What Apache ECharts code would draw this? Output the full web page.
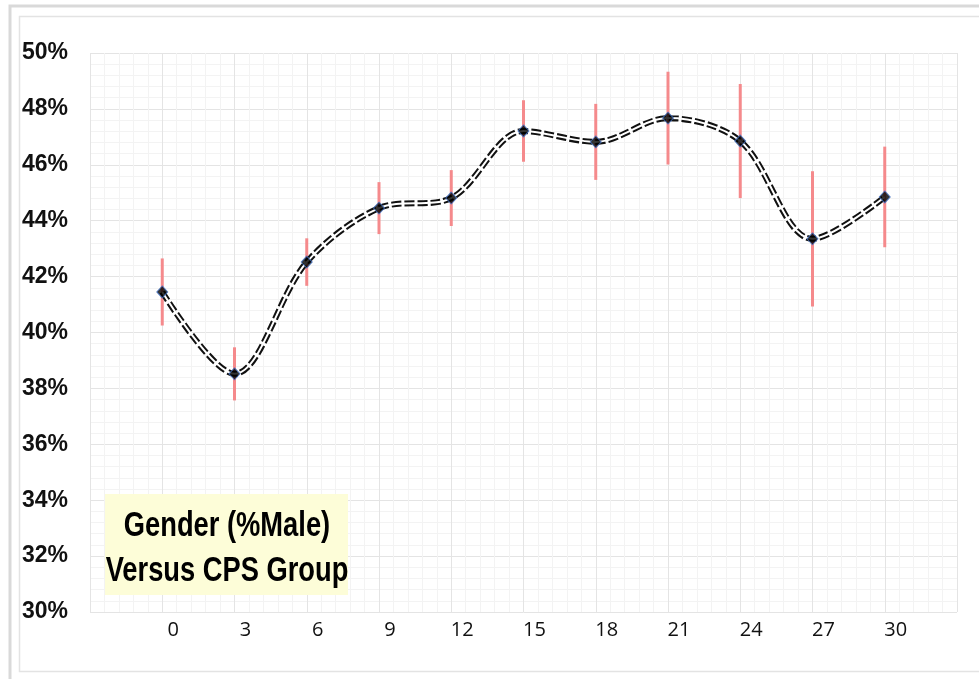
<!DOCTYPE html>
<html>
<head>
<meta charset="utf-8">
<script src="https://cdn.jsdelivr.net/npm/echarts@6.0.0/dist/echarts.min.js"></script>
<style>
    html, body { margin: 0; padding: 0; background: #fff; }
    #chart { width: 979px; height: 679px; }
</style>
</head>
<body>
<div id="chart"></div>
<script>
    // CPS group on x, share of males (%) with its error half-width
    const cpsGroups = [0, 3, 6, 9, 12, 15, 18, 21, 24, 27, 30];
    const malePercent = [41.45, 38.52, 42.52, 44.45, 44.81, 47.21, 46.82, 47.67, 46.85, 43.35, 44.85];
    const errorHalf = [1.2, 0.95, 0.85, 0.93, 1.0, 1.1, 1.36, 1.66, 2.04, 2.42, 1.8];
    const titleLines = ["Gender (%Male)", "Versus CPS Group"];

    const points = cpsGroups.map((x, i) => [x, malePercent[i]]);
    const bars = cpsGroups.map((x, i) => [x, malePercent[i] - errorHalf[i], malePercent[i] + errorHalf[i]]);

    const chart = echarts.init(document.getElementById("chart"), null, { renderer: "canvas" });

    const option = {
        animation: false,
        grid: { left: 90, top: 53, right: 22, bottom: 67 },
        graphic: [
            {
                type: "rect",
                shape: { x: 10, y: 6, width: 1000, height: 700 },
                style: { fill: "none", stroke: "#d9d9d9", lineWidth: 3 },
                silent: true
            },
            {
                type: "rect",
                shape: { x: 19.5, y: 16.5, width: 1000, height: 655 },
                style: { fill: "none", stroke: "#e3e3e3", lineWidth: 1.5 },
                silent: true
            },
            {
                type: "rect",
                shape: { x: 105, y: 494, width: 243, height: 101 },
                style: { fill: "#fdfdd8" },
                z: 10,
                silent: true
            },
            {
                type: "text",
                x: 227,
                y: 549,
                scaleX: 0.78,
                z: 11,
                style: {
                    text: titleLines.join("\n"),
                    align: "center",
                    verticalAlign: "middle",
                    lineHeight: 45,
                    fill: "#000",
                    font: "bold 35px 'Liberation Sans', sans-serif"
                },
                silent: true
            }
        ],
        xAxis: {
            type: "value",
            min: -3,
            max: 33,
            interval: 3,
            axisLine: { show: false },
            axisTick: { show: false },
            axisLabel: {
                color: "#111",
                fontSize: 20,
                fontFamily: "'Open Sans', sans-serif",
                margin: 8,
                padding: [0, 0, 0, 22],
                formatter(value) {
                    return value < 0 || value > 30 ? "" : String(value);
                }
            },
            splitLine: { lineStyle: { color: "#e4e4e4", width: 1 } },
            minorTick: { show: false, splitNumber: 5 },
            minorSplitLine: { show: true, lineStyle: { color: "#f3f3f3", width: 1 } }
        },
        yAxis: {
            type: "value",
            min: 30,
            max: 50,
            interval: 2,
            axisLine: { show: false },
            axisTick: { show: false },
            axisLabel: {
                color: "#111",
                fontSize: 23,
                fontWeight: "bold",
                fontFamily: "'Liberation Sans', sans-serif",
                margin: 22,
                formatter: "{value}%"
            },
            splitLine: { lineStyle: { color: "#e4e4e4", width: 1 } },
            minorTick: { show: false, splitNumber: 5 },
            minorSplitLine: { show: true, lineStyle: { color: "#f3f3f3", width: 1 } }
        },
        series: [
            {
                type: "custom",
                name: "Error",
                z: 1,
                data: bars,
                renderItem(params, api) {
                    const low = api.coord([api.value(0), api.value(1)]);
                    const high = api.coord([api.value(0), api.value(2)]);
                    return {
                        type: "line",
                        shape: { x1: low[0], y1: low[1], x2: high[0], y2: high[1] },
                        style: { stroke: "#f58a8c", lineWidth: 3 }
                    };
                }
            },
            {
                type: "line",
                name: "Male",
                z: 2,
                data: points,
                smooth: 0.33,
                showSymbol: false,
                lineStyle: { color: "#111", width: 6, type: [10, 3] }
            },
            {
                type: "line",
                name: "MaleInner",
                z: 3,
                data: points,
                smooth: 0.33,
                showSymbol: false,
                lineStyle: { color: "#fff", width: 2 }
            },
            {
                type: "scatter",
                name: "Points",
                z: 4,
                data: points,
                symbol: "diamond",
                symbolSize: [11, 12],
                itemStyle: { color: "#000", borderColor: "#4472c4", borderWidth: 1 }
            }
        ]
    };

    chart.setOption(option);
</script>
</body>
</html>
